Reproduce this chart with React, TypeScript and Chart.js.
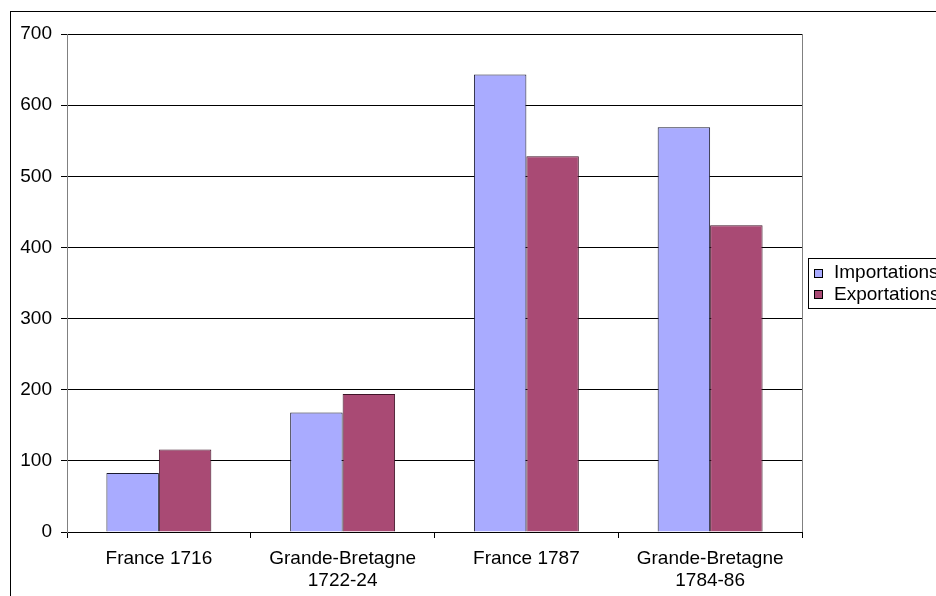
import React, { useEffect, useRef } from "react";
import { Chart, registerables } from "chart.js";

Chart.register(...registerables);

const categories: (string | string[])[] = [
  "France 1716",
  ["Grande-Bretagne", "1722-24"],
  "France 1787",
  ["Grande-Bretagne", "1784-86"],
];
const importations = [83, 168, 643, 569];
const exportations = [116, 194, 528, 431];
const seriesNames = ["Importations", "Exportations"];
const yTicks = { min: 0, max: 700, step: 100 };

const FONT = "'Liberation Sans', Arial, sans-serif";

const framePlugin = {
  id: "frame",
  afterDraw(chart: any) {
    const ctx = chart.ctx as CanvasRenderingContext2D;
    const area = chart.chartArea;
    ctx.save();
    // outer border
    ctx.strokeStyle = "#000";
    ctx.lineWidth = 1;
    ctx.strokeRect(10.5, 11.5, 1000, 700);
    // plot area right border
    ctx.strokeStyle = "#808080";
    ctx.beginPath();
    ctx.moveTo(Math.round(area.right) + 0.5, area.top);
    ctx.lineTo(Math.round(area.right) + 0.5, area.bottom);
    ctx.stroke();
    // legend
    const lx = 808.5;
    const ly = 258.5;
    ctx.fillStyle = "#fff";
    ctx.fillRect(lx, ly, 200, 50);
    ctx.strokeStyle = "#000";
    ctx.strokeRect(lx, ly, 200, 50);
    ctx.font = `19px ${FONT}`;
    ctx.textBaseline = "alphabetic";
    ctx.textAlign = "left";
    chart.data.datasets.forEach((ds: any, i: number) => {
      const my = 269 + i * 21;
      ctx.fillStyle = ds.backgroundColor;
      ctx.fillRect(814, my, 8, 8);
      ctx.strokeStyle = "#000";
      ctx.strokeRect(814.5, my + 0.5, 8, 8);
      ctx.fillStyle = "#000";
      ctx.fillText(ds.label, 834, 278 + i * 22);
    });
    ctx.restore();
  },
};

export default function App() {
  const ref = useRef<HTMLCanvasElement | null>(null);
  useEffect(() => {
    if (!ref.current) return;
    const chart = new Chart(ref.current, {
      type: "bar",
      data: {
        labels: categories as any,
        datasets: [
          {
            label: seriesNames[0],
            data: importations,
            backgroundColor: "#A9ABFF",
            borderColor: "#1a1a2e",
            borderWidth: 1,
          },
          {
            label: seriesNames[1],
            data: exportations,
            backgroundColor: "#A94A74",
            borderColor: "#3f1428",
            borderWidth: 1,
          },
        ],
      },
      options: {
        animation: false,
        responsive: false,
        devicePixelRatio: 1,
        layout: { padding: { top: 34, right: 134, left: 0, bottom: 0 } },
        datasets: { bar: { barPercentage: 1, categoryPercentage: 0.571 } },
        plugins: {
          legend: { display: false },
          tooltip: { enabled: false },
          title: { display: false },
        },
        scales: {
          x: {
            grid: {
              drawOnChartArea: false,
              drawTicks: true,
              tickLength: 6,
              color: "#000",
              offset: true,
            },
            border: { color: "#000", width: 1 },
            ticks: {
              color: "#000",
              font: { family: FONT, size: 19, lineHeight: 1.16 },
              padding: 10,
              maxRotation: 0,
              autoSkip: false,
            },
            afterFit: (s: any) => {
              s.height = 64;
            },
          },
          y: {
            min: yTicks.min,
            max: yTicks.max,
            ticks: {
              stepSize: yTicks.step,
              color: "#000",
              font: { family: FONT, size: 19 },
              padding: 9,
            },
            grid: { color: "#000", tickLength: 6, drawTicks: true },
            border: { color: "#808080", width: 1 },
            afterFit: (s: any) => {
              s.width = 67;
            },
          },
        },
      },
      plugins: [framePlugin],
    });
    return () => chart.destroy();
  }, []);
  return (
    <div style={{ position: "fixed", left: 0, top: 0, width: 936, height: 596, background: "#fff" }}>
      <canvas ref={ref} width={936} height={596} style={{ display: "block" }} />
    </div>
  );
}
